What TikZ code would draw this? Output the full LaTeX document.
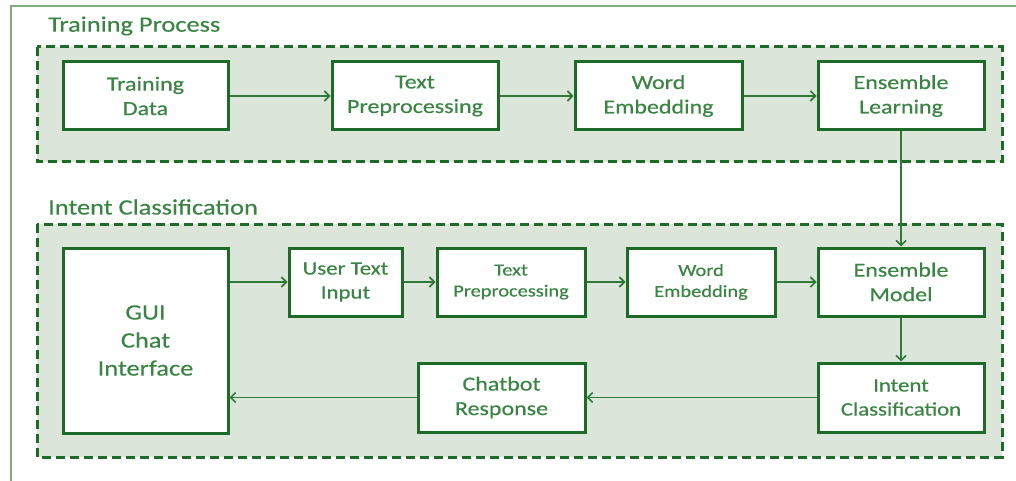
\documentclass[tikz,border=0pt]{standalone}
\usepackage{fontspec}
\setmainfont[FakeStretch=1.2,FakeBold=0.4]{Carlito}
\usetikzlibrary{arrows.meta}
\definecolor{dkgreen}{HTML}{1E6B28}
\definecolor{txtgreen}{HTML}{3A8444}
\definecolor{lnkgreen}{HTML}{2F7A38}
\definecolor{regfill}{HTML}{DCE5DA}
\definecolor{frame}{HTML}{7DAF80}
\tikzset{
  box/.style={draw=dkgreen, line width=3pt, fill=white, inner sep=0pt, align=center,
    text=txtgreen, font=\fontsize{20}{24.5}\selectfont},
  smalltext/.style={font=\fontsize{17}{21}\selectfont},
  region/.style={draw=dkgreen, line width=3pt, dash pattern=on 9pt off 5pt, fill=regfill},
  title/.style={anchor=west, text=txtgreen, inner sep=0pt, font=\fontsize{22}{26}\selectfont},
  link/.style={draw=lnkgreen, line width=1.6pt, -{Straight Barb[length=5pt,width=10pt,line width=1.6pt]}},
  plain/.style={draw=lnkgreen, line width=1.6pt}
}
\begin{document}
\begin{tikzpicture}[x=1pt,y=-1pt]
\useasboundingbox (0,0) rectangle (1016,481);
% outer frame (top and left lines only visible)
\draw[frame, line width=2pt] (11,482) -- (11,6) -- (1017,6);
% regions
\path[region] (37,47) rectangle (1002,162);
\path[region] (37,224) rectangle (1002,457);
\node[title] (t1) at (48,26) {Training Process};
\node[title] (t2) at (48,207) {Intent Classification};
% training row
\node[box, minimum width=165, minimum height=68] (td) at (145.5,96) {Training\\Data};
\node[box, minimum width=166, minimum height=68] (tp) at (415,96) {Text\\Preprocessing};
\node[box, minimum width=167, minimum height=68] (we) at (658.5,96) {Word\\Embedding};
\node[box, minimum width=166, minimum height=68] (el) at (901,96) {Ensemble\\Learning};
% intent row
\node[box, minimum width=165, minimum height=185, font=\fontsize{22}{28}\selectfont] (gui) at (145.5,340.5) {GUI\\Chat\\Interface};
\node[box, minimum width=113, minimum height=68, font=\fontsize{19}{24}\selectfont] (uti) at (345.5,282) {User Text\\Input};
\node[box, smalltext, minimum width=148, minimum height=68] (tp2) at (511,282) {Text\\Preprocessing};
\node[box, smalltext, minimum width=148, minimum height=68] (we2) at (701,282) {Word\\Embedding};
\node[box, minimum width=166, minimum height=68] (em) at (901,282) {Ensemble\\Model};
\node[box, minimum width=166, minimum height=69, font=\fontsize{19}{24}\selectfont] (ic) at (901,397.5) {Intent\\Classification};
\node[box, minimum width=167, minimum height=69] (cr) at (501.5,397.5) {Chatbot\\Response};
% connectors
\draw[link] (td) -- (tp);
\draw[link] (tp) -- (we);
\draw[link] (we) -- (el);
\draw[link] (el) -- (em);
\draw[link] (uti.west -| gui.east) -- (uti);
\draw[link] (uti) -- (tp2);
\draw[link] (tp2) -- (we2);
\draw[link] (we2) -- (em);
\draw[link] (em) -- (ic);
\draw[link] (ic) -- (cr);
\draw[link] (cr.west) -- (cr.west -| gui.east);
\end{tikzpicture}
\end{document}
